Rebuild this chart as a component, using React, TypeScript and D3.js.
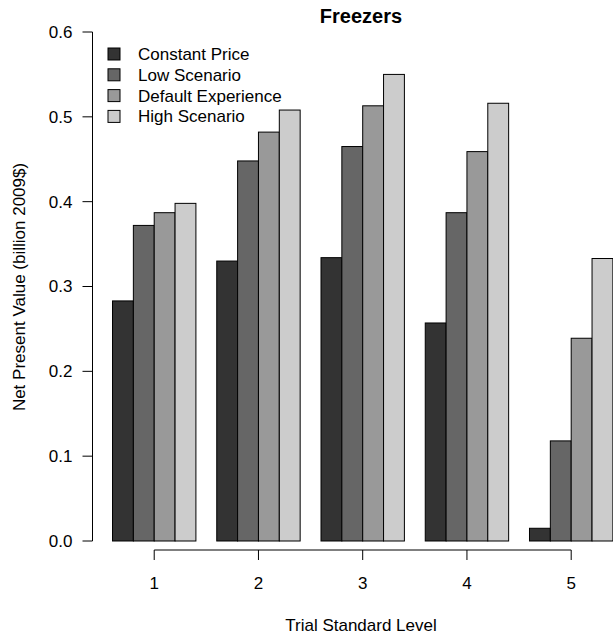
import React from "react";
import * as d3 from "d3";

const levels = ["1", "2", "3", "4", "5"];
const seriesNames = ["Constant Price", "Low Scenario", "Default Experience", "High Scenario"];
const seriesColors = ["#333333", "#666666", "#999999", "#CCCCCC"];
const constantPrice = [0.283, 0.330, 0.334, 0.257, 0.015];
const lowScenario = [0.372, 0.448, 0.465, 0.387, 0.118];
const defaultExperience = [0.387, 0.482, 0.513, 0.459, 0.239];
const highScenario = [0.398, 0.508, 0.550, 0.516, 0.333];
const yTicks = [0.0, 0.1, 0.2, 0.3, 0.4, 0.5, 0.6];

const W = 613;
const H = 636;
const FONT = "'Liberation Sans', Arial, Helvetica, sans-serif";
const FS = 17;

export default function App() {
  const series = [constantPrice, lowScenario, defaultExperience, highScenario];
  // R barplot units: each group 4 bars + 1 space
  const x = d3.scaleLinear().domain([0.04, 25.96]).range([92.5, 632.9]);
  const y = d3.scaleLinear().domain([0, 0.6]).range([541, 32]);
  const unit = x(1) - x(0);
  const groupCenter = (g: number) => x(1 + g * 5 + 2);
  const axisX = x(0.04);
  const xAxisY = 550;

  return (
    <svg width={W} height={H} style={{ position: "absolute", left: 0, top: 0, background: "#fff" }} fontFamily={FONT}>
      <rect x={0} y={0} width={W} height={H} fill="#fff" />
      {levels.map((lv, g) =>
        series.map((s, i) => {
          const left = x(1 + g * 5 + i);
          const top = y(s[g]);
          return (
            <rect
              key={`${g}-${i}`}
              x={left}
              y={top}
              width={unit}
              height={y(0) - top}
              fill={seriesColors[i]}
              stroke="#000"
              strokeWidth={1}
            />
          );
        })
      )}
      {/* y axis */}
      <line x1={axisX} x2={axisX} y1={y(0)} y2={y(0.6)} stroke="#000" strokeWidth={1} />
      {yTicks.map((t) => (
        <g key={t}>
          <line x1={axisX - 10} x2={axisX} y1={y(t)} y2={y(t)} stroke="#000" strokeWidth={1} />
          <text x={axisX - 20} y={y(t)} dy="0.35em" textAnchor="end" fontSize={FS} fill="#000">
            {t.toFixed(1)}
          </text>
        </g>
      ))}
      {/* x axis */}
      <line x1={groupCenter(0)} x2={groupCenter(4)} y1={xAxisY} y2={xAxisY} stroke="#000" strokeWidth={1} />
      {levels.map((lv, g) => (
        <g key={lv}>
          <line x1={groupCenter(g)} x2={groupCenter(g)} y1={xAxisY} y2={xAxisY + 10} stroke="#000" strokeWidth={1} />
          <text x={groupCenter(g)} y={583} dy="0.35em" textAnchor="middle" fontSize={FS} fill="#000">
            {lv}
          </text>
        </g>
      ))}
      {/* titles */}
      <text x={361} y={16} dy="0.35em" textAnchor="middle" fontSize={20} fontWeight="bold" fill="#000">
        Freezers
      </text>
      <text x={361} y={625} dy="0.35em" textAnchor="middle" fontSize={FS} fill="#000">
        Trial Standard Level
      </text>
      <text
        transform={`translate(19,287) rotate(-90)`}
        dy="0.35em"
        textAnchor="middle"
        fontSize={FS}
        fill="#000"
      >
        Net Present Value (billion 2009$)
      </text>
      {/* legend */}
      {seriesNames.map((name, i) => {
        const cy = 54 + i * 20.8;
        return (
          <g key={name}>
            <rect x={108} y={cy - 6} width={12} height={12} fill={seriesColors[i]} stroke="#000" strokeWidth={1} />
            <text x={138} y={cy} dy="0.35em" fontSize={FS} fill="#000">
              {name}
            </text>
          </g>
        );
      })}
    </svg>
  );
}
